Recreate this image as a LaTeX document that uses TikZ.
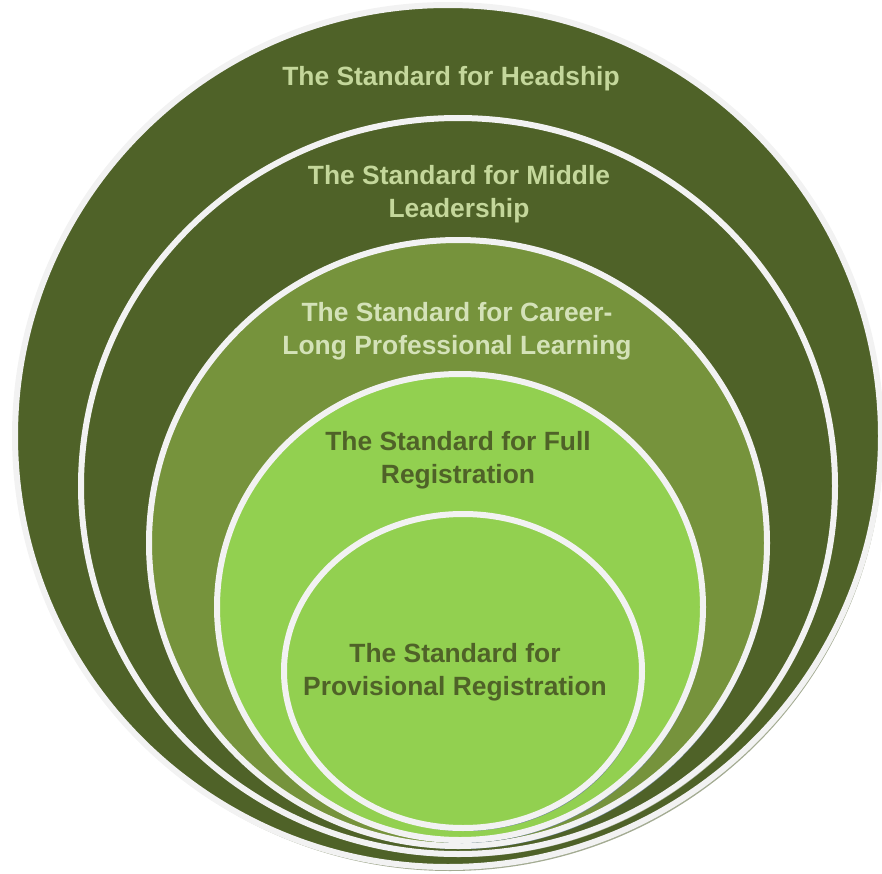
\documentclass[tikz,border=0pt]{standalone}
\usepackage{fontspec}
\setmainfont{Liberation Sans}
\definecolor{darkolive}{HTML}{4F6228}
\definecolor{midolive}{HTML}{76933C}
\definecolor{leafgreen}{HTML}{92D050}
\definecolor{paletext}{HTML}{C4D79B}
\definecolor{palertext}{HTML}{D4E2B8}
\definecolor{ringwhite}{HTML}{F2F2F2}
\definecolor{greyshade}{HTML}{A3AB92}
\definecolor{blueshade}{HTML}{71879A}

\begin{document}
\begin{tikzpicture}[x=0.75pt, y=-0.75pt,
        ring/.style={draw=ringwhite, line width=4.5pt},
        lbl/.style={font=\bfseries\fontsize{19.8}{24.4}\selectfont, align=center}]

        \useasboundingbox (0, 0) rectangle (882, 874);

        % headship
        \fill [greyshade] (450, 440) ellipse [x radius=433, y radius=431];
        \draw [ring, fill = darkolive] (448, 436) ellipse [x radius=433, y radius=431];

        % middle leadership
        \fill [greyshade] (460, 489) ellipse [x radius=377, y radius=368];
        \draw [ring, fill = darkolive] (458, 486) ellipse [x radius=377, y radius=368];

        % career-long
        \fill [blueshade] (460, 546) ellipse [x radius=309, y radius=303];
        \draw [ring, fill = midolive] (458, 543) ellipse [x radius=309, y radius=303];

        % full registration
        \fill [blueshade] (462, 610) ellipse [x radius=243, y radius=233];
        \draw [ring, fill = leafgreen] (460, 607) ellipse [x radius=243, y radius=233];

        % provisional registration
        \fill [blueshade] (465, 674) ellipse [x radius=179, y radius=157];
        \draw [ring, fill = leafgreen] (463, 671) ellipse [x radius=179, y radius=157];

        \node (headship) at (451, 79) [lbl, text = paletext] {The Standard for Headship};
        \node (middle) at (459, 194) [lbl, text = paletext] {The Standard for Middle\\Leadership};
        \node (clpl) at (457, 331) [lbl, text = palertext] {The Standard for Career-\\Long Professional Learning};
        \node (full) at (458, 460) [lbl, text = darkolive] {The Standard for Full\\Registration};
        \node (provisional) at (455, 672) [lbl, text = darkolive] {The Standard for\\Provisional Registration};

    \end{tikzpicture}
\end{document}
